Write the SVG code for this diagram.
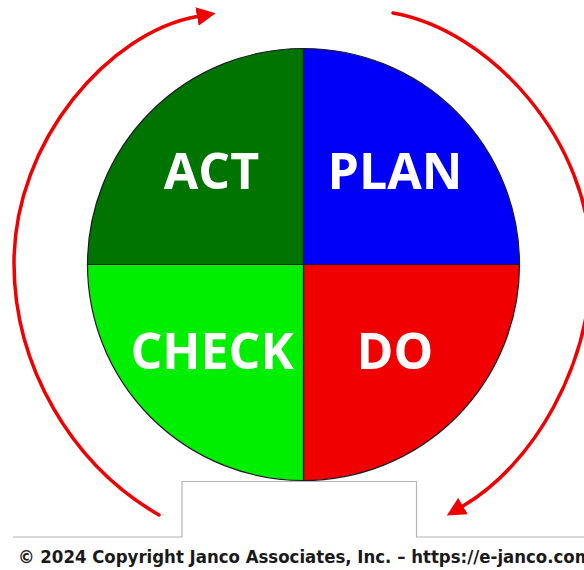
<svg xmlns="http://www.w3.org/2000/svg" width="584" height="570" viewBox="0 0 584 570">
<style>
.wedge{stroke:#1c1c24;stroke-width:1.2}
.lbl{font-family:"Open Sans","DejaVu Sans",sans-serif;font-weight:700;font-size:50px;fill:#fff;text-anchor:middle}
.arc{fill:none;stroke:#f00000;stroke-width:3.5;stroke-linecap:round}
.frame{fill:none;stroke:#b4b4b4;stroke-width:1.2}
.copy{font-family:"DejaVu Sans","Liberation Sans",sans-serif;font-weight:700;font-size:17px;fill:#1a1a1a}
</style>
<defs>
<marker id="ah" markerUnits="userSpaceOnUse" markerWidth="20" markerHeight="20" viewBox="0 -9 18 18" refX="0" refY="0" orient="auto">
<path d="M0,-8.5 L17,0 L0,8.5 Z" fill="#f00000"/>
</marker>
</defs>
<rect width="584" height="570" fill="#fff"/>
<g id="frame">
<path class="frame" d="M13,537 H182 V481.5 H416.5 V537 H584"/>
</g>
<g id="connectors">
<path class="arc" d="M159,515 C70.5,464 14,365 14,263 C14,140 110,32 197,16.5" marker-end="url(#ah)"/>
<path class="arc" d="M393,13 C490,30 591,140 591,263 C591,365 534,464 463,506" marker-end="url(#ah)"/>
</g>
<g id="act">
<path class="wedge" fill="#007400" d="M303.5,264.5 L87.5,264.5 A216,216 0 0 1 303.5,48.5 Z"/>
<text class="lbl" x="211.5" y="189">ACT</text>
</g>
<g id="plan">
<path class="wedge" fill="#0000fa" d="M303.5,264.5 L303.5,48.5 A216,216 0 0 1 519.5,264.5 Z"/>
<text class="lbl" x="395" y="189">PLAN</text>
</g>
<g id="do">
<path class="wedge" fill="#f00000" d="M303.5,264.5 L519.5,264.5 A216,216 0 0 1 303.5,480.5 Z"/>
<text class="lbl" x="395" y="369">DO</text>
</g>
<g id="check">
<path class="wedge" fill="#00ee00" d="M303.5,264.5 L303.5,480.5 A216,216 0 0 1 87.5,264.5 Z"/>
<text class="lbl" x="212" y="369">CHECK</text>
</g>
<text class="copy" x="18" y="563" textLength="574" lengthAdjust="spacingAndGlyphs">© 2024 Copyright Janco Associates, Inc. – https://e-janco.com</text>
</svg>
